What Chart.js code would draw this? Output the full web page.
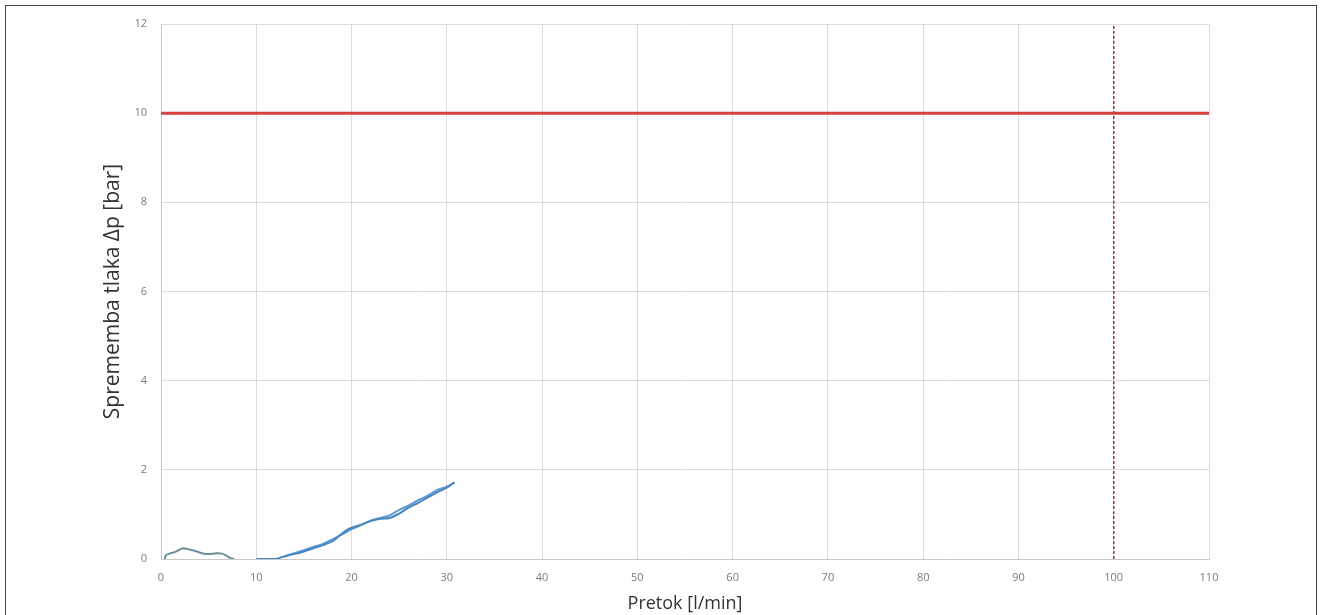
<!DOCTYPE html>
<html>
<head>
<meta charset="utf-8">
<script src="https://cdn.jsdelivr.net/npm/chart.js@4.4.1/dist/chart.umd.min.js"></script>
<style>
  html, body { margin: 0; padding: 0; background: #fff; overflow: hidden; }
  #frame {
    position: absolute; left: 5px; top: 5px; width: 1312px; height: 640px;
    border: 1px solid #444; box-sizing: border-box;
  }
  #wrap { position: absolute; left: 0; top: 0; width: 1321px; height: 615px; }
</style>
</head>
<body>
<div id="frame"></div>
<div id="wrap"><canvas id="js-flowchart" width="1321" height="615"></canvas></div>
<script>
// first run, small hump near zero flow
const humpX = [0.4, 0.5, 0.9, 1.5, 2.3, 3.0, 3.6, 4.3, 5.0, 5.8, 6.4, 6.9, 7.3, 7.7];
const humpY = [0.0, 0.08, 0.12, 0.16, 0.24, 0.21, 0.18, 0.13, 0.11, 0.13, 0.12, 0.07, 0.02, 0.0];

// rising branch
const upX = [10.0, 11.0, 12.0, 12.8, 13.5, 14.2, 15.0, 16.0, 17.0, 18.0, 18.7, 19.3, 20.0, 21.0, 22.0, 23.0, 24.0, 25.0, 26.0, 27.0, 28.0, 29.0, 30.0, 30.8];
const upY = [0.0, 0.0, 0.0, 0.05, 0.09, 0.12, 0.17, 0.24, 0.31, 0.40, 0.52, 0.62, 0.70, 0.77, 0.85, 0.90, 0.92, 1.02, 1.15, 1.26, 1.38, 1.50, 1.60, 1.72];

// falling branch
const downX = [30.8, 30.0, 29.0, 28.0, 27.0, 26.0, 25.0, 24.0, 23.0, 22.0, 21.0, 20.0, 19.0, 18.0, 17.0, 16.0, 15.0, 14.0, 13.0];
const downY = [1.72, 1.62, 1.55, 1.42, 1.32, 1.20, 1.10, 0.98, 0.92, 0.86, 0.76, 0.67, 0.55, 0.44, 0.34, 0.27, 0.20, 0.13, 0.06];

// limits
const limitX = [0, 110];
const limitY = [10, 10];
const maxFlowX = [100, 100];
const maxFlowY = [0, 12];

const toPoints = (xs, ys) => xs.map((x, i) => ({ x, y: ys[i] }));

const lineSet = (data, color, width, dash) => ({
  data,
  borderColor: color,
  backgroundColor: color,
  borderWidth: width,
  borderDash: dash || [],
  pointRadius: 0,
  tension: 0.3,
  fill: false,
});

const chartInit = (element) => new Chart(element, {
  type: 'line',
  data: {
    datasets: [
      lineSet(toPoints(limitX, limitY), '#d6403c', 3),
      lineSet(toPoints(maxFlowX, maxFlowY), '#9a2f34', 1.5, [3, 2]),
      lineSet(toPoints(humpX, humpY), '#6b8d9c', 2),
      lineSet(toPoints(upX, upY), '#4a86bd', 2),
      lineSet(toPoints(downX, downY), '#5b9bd5', 2),
    ],
  },
  options: {
    responsive: false,
    animation: false,
    layout: { padding: { left: 100, right: 112, top: 24, bottom: 0 } },
    plugins: { legend: { display: false }, tooltip: { enabled: false } },
    scales: {
      x: {
        type: 'linear',
        min: 0,
        max: 110,
        afterFit: (scale) => { scale.height = 56; },
        ticks: { stepSize: 10, color: '#7a7a7a', font: { family: 'Open Sans', size: 11 }, padding: 12 },
        grid: { color: '#dcdcdc', drawTicks: false },
        border: { color: '#c8c8c8' },
        title: {
          display: true,
          text: 'Pretok [l/min]',
          color: '#333',
          font: { family: 'Open Sans', size: 18 },
          padding: { top: 2, bottom: 0 },
        },
      },
      y: {
        min: 0,
        max: 12,
        afterFit: (scale) => { scale.width = 61; },
        ticks: { stepSize: 2, color: '#7a7a7a', font: { family: 'Open Sans', size: 11 }, padding: 14 },
        grid: { color: '#dcdcdc', drawTicks: false },
        border: { color: '#c8c8c8' },
        title: {
          display: true,
          text: 'Sprememba tlaka Δp [bar]',
          color: '#333',
          font: { family: 'Open Sans', size: 21 },
          padding: { top: 0, bottom: 2 },
        },
      },
    },
  },
});

document.addEventListener('DOMContentLoaded', () => {
  const element = document.getElementById('js-flowchart');
  if (element) {
    chartInit(element);
  }
});
</script>
</body>
</html>
